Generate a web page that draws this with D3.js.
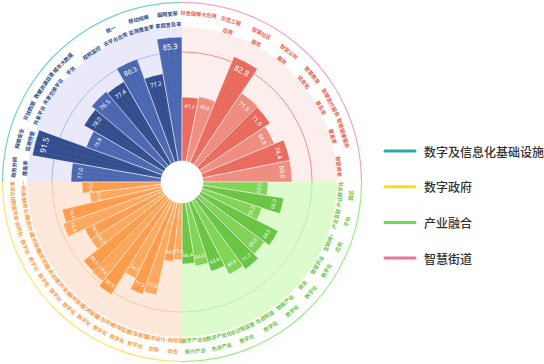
<!DOCTYPE html>
<html><head><meta charset="utf-8">
<script src="https://cdn.jsdelivr.net/npm/d3@7"></script>
<style>body{margin:0;background:#fff}svg{display:block}</style>
</head><body><svg id="c" width="544" height="364"></svg>
<script>
// ---------- data ----------
const seriesNames = ["数字及信息化基础设施", "数字政府", "产业融合", "智慧街道"];

// Top-left quadrant (数字及信息化基础设施), clockwise
const infraCats = [["政务外网","覆盖率"],["网络安全","监测预警"],["开放数据","共享平台"],["数据资源目录","共享交换平台"],["城市大数据","平台"],["","视频监控"],["统一","云平台应用"],["移动网络","监测覆盖率"],["固网宽带","家庭普及率"]];
const infraScores = [77.0, 91.5, 75.8, 78.0, 76.5, 77.4, 80.3, 77.2, 85.3];
const infraExtent = [67.2, 97.8, 60.4, 68.7, 72.4, 70.9, 82.1, 66.4, 92.5];

// Top-right quadrant (智慧街道), clockwise
const streetCats = [["社会保障卡应用",""],["示范工程","应用"],["智慧社区","服务"],["智慧公共","服务"],["智慧教育","信息化"],["智慧医疗服务","普及率"],["智慧健康服务","覆盖率"],["","智慧养老"]];
const streetScores = [47.9, 48.6, 82.8, 71.5, 71.9, 64.8, 74.4, 60.0];
const streetExtent = [47.8, 49.3, 85.8, 64.2, 63.4, 59.0, 66.4, 66.4];

// Bottom-right quadrant (产业融合), clockwise
const industryCats = [["产业数字化","园区"],["产业互联","平台"],["互联网+","应用"],["智慧农业","数字化"],["商业","数字化"],["物联产业","数字化"],["先进制造","数字化"],["全过程监管","数字化"],["数字产业化","先进产业"],["数字产业化","新兴产业"]];
const industryScores = [62.6, 66.0, 55.2, 68.5, 65.0, 71.2, 64.6, 63.6, 64.0, 66.4];
const industryExtent = [48.5, 61.2, 47.0, 64.9, 60.4, 64.9, 61.9, 54.5, 47.8, 45.5];

// Bottom-left quadrant (数字政府), clockwise
const govCats = [["一网统管","综合"],["城市运行","应用"],["应急管理","数字化"],["市场监管","数字化"],["生态环境","数字化"],["交通管理","数字化"],["城市管理","数字化"],["公共安全","数字化"],["社会治理","数字化"],["基层党建","数字化"],["政务服务","数字化"],["政务办公","协同化"],["政务公开","数据共享"],["一网通办","事项占比"]];
const govScores = [65.0, 64.6, 77.0, 77.5, 74.7, 80.9, 79.6, 80.5, 74.7, 74.9, 79.4, 74.0, 67.9, 73.4];
const govExtent = [42.5, 44.0, 70.9, 73.1, 64.2, 83.6, 79.1, 78.4, 64.9, 64.9, 78.4, 76.1, 53.7, 59.0];

const referenceValue = 81.3;
const radiusTicks = d3.range(0, 100, 1.6);

// ---------- styles ----------
const quads = [
  {cats: infraCats, scores: infraScores, ext: infraExtent, a0: -90, a1: 0,
   bars: ["#4764b0", "#2f4a8c"], bg: "#e9e9fa", dash: "#a9b9ee", ring: "#72d3c6", text: "#2d4a8a"},
  {cats: streetCats, scores: streetScores, ext: streetExtent, a0: 0, a1: 90,
   bars: ["#e9685a", "#f08a7d"], bg: "#fdeeee", dash: "#ee8f8a", ring: "#f3a6c3", text: "#e8604f"},
  {cats: industryCats, scores: industryScores, ext: industryExtent, a0: 90, a1: 180,
   bars: ["#7ed352", "#66c43e"], bg: "#dcfcce", dash: "#b9f0a2", ring: "#9bef7f", text: "#67c53f"},
  {cats: govCats, scores: govScores, ext: govExtent, a0: 180, a1: 270,
   bars: ["#ffa65a", "#ff9a48"], bg: "#fee8d9", dash: "#fdc9a3", ring: "#ffe468", text: "#ff9c45"}
];
const legendColors = ["#2aa9a9", "#ffd91c", "#63e346", "#e8779c"];

const W = 544, H = 364, cx = 182, cy = 182;
const holeR = 21, bgR = 155, ringR = 179;
const rad = d => d * Math.PI / 180;
const r = d3.scaleLinear().domain([0, 100]).range([holeR, bgR]);

const svg = d3.select("#c");
const g = svg.append("g").attr("transform", `translate(${cx},${cy})`);
const arc = d3.arc();
const fontCJK = "'Noto Sans CJK SC','Noto Sans',sans-serif";

function rotFor(deg) {
  let d = ((deg + 180) % 360 + 360) % 360 - 180;
  if (d > 90) d -= 180;
  if (d < -90) d += 180;
  return d;
}
function pos(deg, rr) { return [rr * Math.sin(rad(deg)), -rr * Math.cos(rad(deg))]; }

const allBars = [];
quads.forEach((q, qi) => {
  const band = d3.scaleBand().domain(d3.range(q.cats.length)).range([q.a0, q.a1]).padding(0);
  q.cats.forEach((c, i) => {
    allBars.push({q, qi, i, s: band(i), e: band(i) + band.bandwidth(), mid: band(i) + band.bandwidth() / 2,
      ext: q.ext[i], score: q.scores[i], cat: c});
  });
});

// outer ring
g.selectAll("path.ring").data(quads).join("path").attr("class", "ring")
  .attr("d", q => arc({innerRadius: ringR, outerRadius: ringR + 1.2, startAngle: rad(q.a0), endAngle: rad(q.a1)}))
  .attr("fill", q => q.ring);

// backgrounds
g.selectAll("path.bg").data(quads).join("path").attr("class", "bg")
  .attr("d", q => arc({innerRadius: holeR, outerRadius: bgR, startAngle: rad(q.a0), endAngle: rad(q.a1)}))
  .attr("fill", q => q.bg);

// dashed reference arcs
g.selectAll("path.dash").data(quads).join("path").attr("class", "dash")
  .attr("d", q => arc({innerRadius: r(referenceValue), outerRadius: r(referenceValue), startAngle: rad(q.a0), endAngle: rad(q.a1)}))
  .attr("fill", "none").attr("stroke", q => q.dash).attr("stroke-width", 1).attr("stroke-dasharray", "6,6");

// bars
const defs = svg.append("defs");
defs.append("clipPath").attr("id", "barClip").selectAll("path").data(allBars).join("path")
  .attr("d", b => arc({innerRadius: holeR, outerRadius: r(b.ext), startAngle: rad(b.s), endAngle: rad(b.e)}));

g.selectAll("path.bar").data(allBars).join("path").attr("class", "bar")
  .attr("d", b => arc({innerRadius: holeR, outerRadius: r(b.ext), startAngle: rad(b.s), endAngle: rad(b.e)}))
  .attr("fill", b => b.q.bars[b.i % 2])
  .attr("stroke", "#fff").attr("stroke-width", 0.6).attr("stroke-opacity", 0.8);

// stripe texture
const tex = g.append("g").attr("clip-path", "url(#barClip)");
tex.selectAll("circle").data(radiusTicks).join("circle")
  .attr("r", t => r(t)).attr("fill", "none").attr("stroke", "#fff").attr("stroke-opacity", 0.1).attr("stroke-width", 0.5);
tex.selectAll("line").data(d3.range(0, 360, 3)).join("line")
  .attr("x1", d => pos(d, holeR)[0]).attr("y1", d => pos(d, holeR)[1])
  .attr("x2", d => pos(d, bgR)[0]).attr("y2", d => pos(d, bgR)[1])
  .attr("stroke", "#fff").attr("stroke-opacity", 0.16).attr("stroke-width", 0.4);

// value labels
g.selectAll("text.val").data(allBars).join("text").attr("class", "val")
  .each(function (b) {
    const rr = r(b.ext) - 9;
    const w = rr * rad(b.e - b.s);
    const fs = Math.max(5, Math.min(8, w * 0.32));
    const [x, y] = pos(b.mid, rr);
    d3.select(this).attr("transform", `translate(${x},${y}) rotate(${rotFor(b.mid)})`)
      .attr("font-size", fs);
  })
  .attr("text-anchor", "middle").attr("dominant-baseline", "central")
  .attr("fill", "#fff").attr("font-family", "'Noto Sans','DejaVu Sans',sans-serif")
  .text(b => b.score.toFixed(1));

// category labels
const cl = g.selectAll("g.cat").data(allBars).join("g").attr("class", "cat")
  .attr("transform", b => { const [x, y] = pos(b.mid, 163.5); return `translate(${x},${y}) rotate(${rotFor(b.mid)})`; });
cl.each(function (b) {
  const sel = d3.select(this);
  b.cat.forEach((t, k) => {
    if (!t) return;
    sel.append("text").attr("y", k === 0 ? -5.5 : 5.5).attr("text-anchor", "middle").attr("dominant-baseline", "central")
      .attr("font-size", 5.2).attr("font-weight", 700).attr("font-family", fontCJK)
      .attr("fill", b.q.text).text(t);
  });
});

// hole
g.append("circle").attr("r", holeR).attr("fill", "#fff");

// legend
const lg = svg.append("g").selectAll("g").data(seriesNames).join("g")
  .attr("transform", (d, i) => `translate(385,${151 + i * 35.7})`);
lg.append("line").attr("x1", 0).attr("x2", 30).attr("stroke", (d, i) => legendColors[i])
  .attr("stroke-width", 3).attr("stroke-linecap", "round");
lg.append("text").attr("x", 39).attr("dominant-baseline", "central").attr("font-size", 12)
  .attr("font-weight", 500).attr("font-family", fontCJK).attr("fill", "#333").text(d => d);
</script></body></html>
